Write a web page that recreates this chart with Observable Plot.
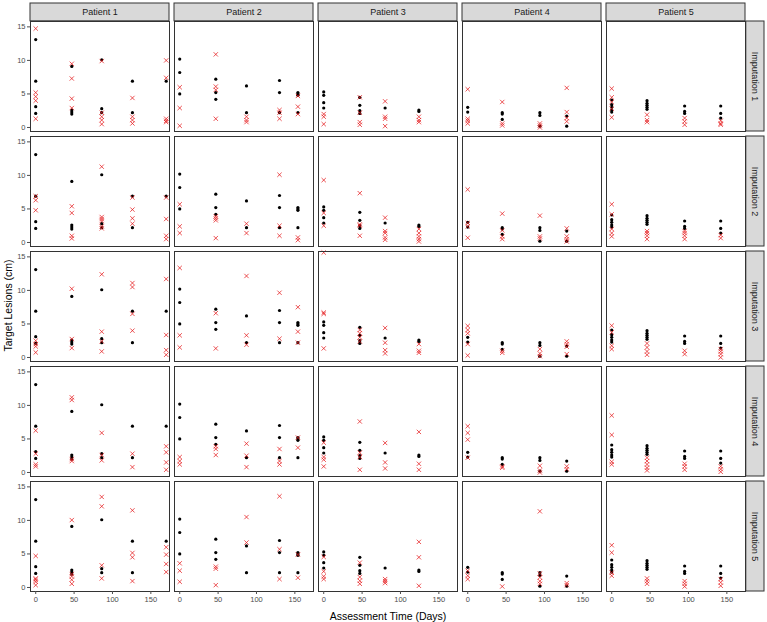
<!DOCTYPE html>
<html><head><meta charset="utf-8">
<script src="https://cdn.jsdelivr.net/npm/d3@7"></script>
<script src="https://cdn.jsdelivr.net/npm/@observablehq/plot@0.6"></script>
<style>body{margin:0;background:#fff;} svg{display:block;}</style>
</head><body><div id="chart"></div>
<script>
const patients = ["Patient 1", "Patient 2", "Patient 3", "Patient 4", "Patient 5"];
const imputations = ["Imputation 1", "Imputation 2", "Imputation 3", "Imputation 4", "Imputation 5"];
const xTicks = [0, 50, 100, 150];
const yTicks = [0, 5, 10, 15];

// assessment days per patient
const times1 = [0, 47, 86, 126, 170];
const times2 = [0, 47, 87, 130, 154];
const times3 = [0, 47, 80, 124];
const times4 = [0, 45, 94, 129];
const times5 = [0, 46, 95, 142];

// observed lesion sizes (cm) per assessment
const observed1 = [[13.1,6.9,3.1,2.1],[9.1,2.6,2.3,2.0],[10.1,2.8,2.2],[6.9,2.2],[6.9]];
const observed2 = [[10.2,8.2,5.0],[7.2,5.2,4.2],[6.2,2.2],[7.0,5.2,2.2],[5.2,5.0,4.8,2.2]];
const observed3 = [[5.3,4.8,3.7,2.9],[4.5,3.3,2.5,2.1],[2.9],[2.6,2.4]];
const observed4 = [[3.0,2.3],[2.2,2.0,1.2],[2.2,1.8,0.2],[1.7,0.2]];
const observed5 = [[4.1,3.4,3.0,2.6,2.3],[4.0,3.6,3.3,3.0,2.7],[3.2,2.4,2.1],[3.2,2.1,1.4]];

// imputed lesion sizes (cm): [imputation][assessment][values]
const imputed1 = [
  [[14.75,5.2,4.6,4.0,1.3],[9.5,7.3,4.3,2.9],[9.9,2.2,1.6,1.1,0.5],[4.4,1.6,1.1,0.6],[10.0,7.4,1.3,1.0,0.8]],
  [[6.9,6.3,4.8],[5.4,4.4,1.0,0.6],[11.3,3.8,3.5,3.2,2.4,2.1],[6.7,4.9,3.6,2.8],[6.7,3.5,1.0,0.5]],
  [[2.5,2.0,1.65,0.75],[10.25,2.75,1.4],[12.4,3.85,2.4,0.9],[11.1,10.5,6.5,4.0],[11.7,3.35,1.1,0.4]],
  [[6.25,2.8,1.2,0.9],[11.2,10.8,2.0,1.7],[5.9,2.6,1.8],[2.8,0.8],[3.9,3.0,1.5,0.4]],
  [[4.7,1.35,1.15,0.85,0.35],[10.05,2.0,1.65,1.15,0.55],[13.5,12.1,3.3,1.35],[11.5,5.15,4.5,0.95],[6.0,4.9,3.5,2.3]]
];
const imputed2 = [
  [[6.0,2.9,0.25],[10.9,6.1,5.6,1.3],[1.6,1.1,0.8],[2.6,2.2,1.3],[4.7,3.1,2.0]],
  [[5.7,2.4,1.4],[3.9,3.6,3.3,0.65],[2.8,1.4],[10.1,2.5,1.0],[0.75,0.35]],
  [[13.35,3.3,1.5],[6.6,1.35],[12.15,3.3,1.9],[9.65,2.8],[7.5,3.85,2.2]],
  [[2.3,1.7,1.2],[3.9,3.5,2.6],[4.3,2.5,0.8],[3.5,1.7,1.2],[5.2,3.7]],
  [[3.6,2.5,0.85],[3.1,2.8,0.35],[10.5,6.7],[13.6,5.7,1.25],[4.9,1.45]]
];
const imputed3 = [
  [[2.0,1.6,0.5],[4.5,2.2,0.8,0.4],[3.9,1.6,1.3,0.2],[1.6,1.1,0.8]],
  [[9.3,4.4,2.5],[7.35,2.7,2.5,1.0],[3.7,1.7,1.4,0.75,0.4],[2.0,1.4,0.9,0.5,0.15]],
  [[15.65,6.7,6.5,1.35],[4.1,3.6,3.0,2.4],[4.4,2.2,1.1,0.6],[2.0,1.0,0.7]],
  [[4.45,2.3,1.9,0.9],[7.6,2.95,2.3,0.4],[4.4,1.5,0.6],[6.05,1.3,0.4]],
  [[4.55,2.4,1.65,1.25],[3.7,1.55,1.0,0.55],[1.25,0.95,0.65],[6.8,4.5,0.25]]
];
const imputed4 = [
  [[5.7,1.3,1.0,0.6],[3.8,0.6,0.3],[0.6,0.3,0.0],[5.9,2.3,1.4,0.9]],
  [[7.9,2.9,2.4,0.7],[4.3,1.8,0.9,0.5],[4.0,0.9,0.6],[2.1,0.9,0.5,0.15]],
  [[4.7,4.1,3.6,2.0,0.3],[1.0,0.7],[1.25,0.6,0.2],[2.4,2.0,1.6,0.5]],
  [[6.9,5.9,4.9,2.2],[0.9,0.7],[1.0,0.3,0.0],[0.9,0.5]],
  [[2.5,1.75,1.25],[0.15],[11.35,2.1,1.5,0.95,0.55],[0.65,0.35]]
];
const imputed5 = [
  [[5.8,4.5,3.8,2.8,1.5],[1.9,1.1,0.8],[1.4,0.9,0.4],[1.0,0.6,0.4]],
  [[5.7,4.2,2.0,1.4,0.9],[1.7,1.4,1.0,0.5],[1.7,1.4,1.0,0.5],[1.1,0.65]],
  [[4.75,3.75,1.75,1.25],[2.1,1.5,0.9,0.4],[1.0,0.5],[1.25,0.9,0.5,0.0]],
  [[8.5,5.6,1.6,1.2],[2.2,1.7,1.2,0.7,0.3],[1.3,0.9,0.4],[0.9,0.5,0.1]],
  [[6.3,5.2,2.2,1.75],[1.35,0.95,0.55],[0.95,0.55,0.15],[1.25,0.75,0.25]]
];

const timesAll = [times1, times2, times3, times4, times5];
const observedAll = [observed1, observed2, observed3, observed4, observed5];
const imputedAll = [imputed1, imputed2, imputed3, imputed4, imputed5];

const obsRows = [], impRows = [], panels = [];
patients.forEach((p, pi) => {
  imputations.forEach((im, ii) => {
    panels.push({patient: p, imp: im, top: ii === 0, right: pi === patients.length - 1});
    timesAll[pi].forEach((t, ti) => {
      observedAll[pi][ti].forEach(v => obsRows.push({patient: p, imp: im, day: t, size: v}));
      imputedAll[pi][ii][ti].forEach(v => impRows.push({patient: p, imp: im, day: t, size: v}));
    });
  });
});

const W = 767, H = 622, mL = 28.5, mR = 19.5, mT = 20, mB = 31;
const padX = 0.0346, padY = 0.0435;
const bwX = (W - mL - mR) / (patients.length - padX) * (1 - padX);
const bwY = (H - mT - mB) / (imputations.length - padY) * (1 - padY);
const font = "'Liberation Sans', Arial, sans-serif";

const plot = Plot.plot({
  width: W, height: H,
  marginLeft: mL, marginRight: mR, marginTop: mT, marginBottom: mB,
  style: {fontFamily: font, background: "#fff", overflow: "visible"},
  x: {domain: [-6.8, 174.3]},
  y: {domain: [-0.6, 15.8]},
  fx: {domain: patients, axis: null, paddingInner: padX, paddingOuter: 0},
  fy: {domain: imputations, axis: null, paddingInner: padY, paddingOuter: 0},
  marks: [
    Plot.rect(panels, {filter: d => d.top, fx: "patient", fy: "imp", fill: "#d9d9d9", stroke: "#333", strokeWidth: 1, insetTop: -18, insetBottom: bwY}),
    Plot.rect(panels, {filter: d => d.right, fx: "patient", fy: "imp", fill: "#d9d9d9", stroke: "#333", strokeWidth: 1, insetLeft: bwX, insetRight: -19}),
    Plot.text(panels, {filter: d => d.top, fx: "patient", fy: "imp", text: "patient", frameAnchor: "top", textAnchor: "middle", lineAnchor: "middle", dy: -9, fontSize: 9, fill: "#1a1a1a"}),
    Plot.text(panels, {filter: d => d.right, fx: "patient", fy: "imp", text: "imp", frameAnchor: "right", textAnchor: "middle", lineAnchor: "middle", dx: 9.5, rotate: 90, fontSize: 9, fill: "#1a1a1a"}),
    Plot.dot(obsRows, {fx: "patient", fy: "imp", x: "day", y: "size", r: 1.6, fill: "#000", stroke: "none"}),
    Plot.dot(impRows, {fx: "patient", fy: "imp", x: "day", y: "size", symbol: "times", r: 2.1, fill: "none", stroke: "#e41a1c", strokeOpacity: 0.75, strokeWidth: 1}),
    Plot.frame({stroke: "#333", strokeWidth: 1}),
    Plot.axisX({ticks: xTicks, tickSize: 3, tickPadding: 2, fontSize: 7.5, color: "#4d4d4d", label: null}),
    Plot.axisY({ticks: yTicks, tickSize: 3, tickPadding: 2, fontSize: 7.5, color: "#4d4d4d", label: null})
  ]
});

const svg = d3.select(plot);
svg.append("text").attr("x", (mL + W - mR) / 2).attr("y", 619.5)
  .attr("text-anchor", "middle").attr("font-family", font).attr("font-size", 10.5).attr("fill", "#000")
  .text("Assessment Time (Days)");
svg.append("text").attr("transform", `translate(11.5,${(mT + H - mB) / 2}) rotate(-90)`)
  .attr("text-anchor", "middle").attr("font-family", font).attr("font-size", 10.5).attr("fill", "#000")
  .text("Target Lesions (cm)");

document.getElementById("chart").appendChild(plot);
</script></body></html>
